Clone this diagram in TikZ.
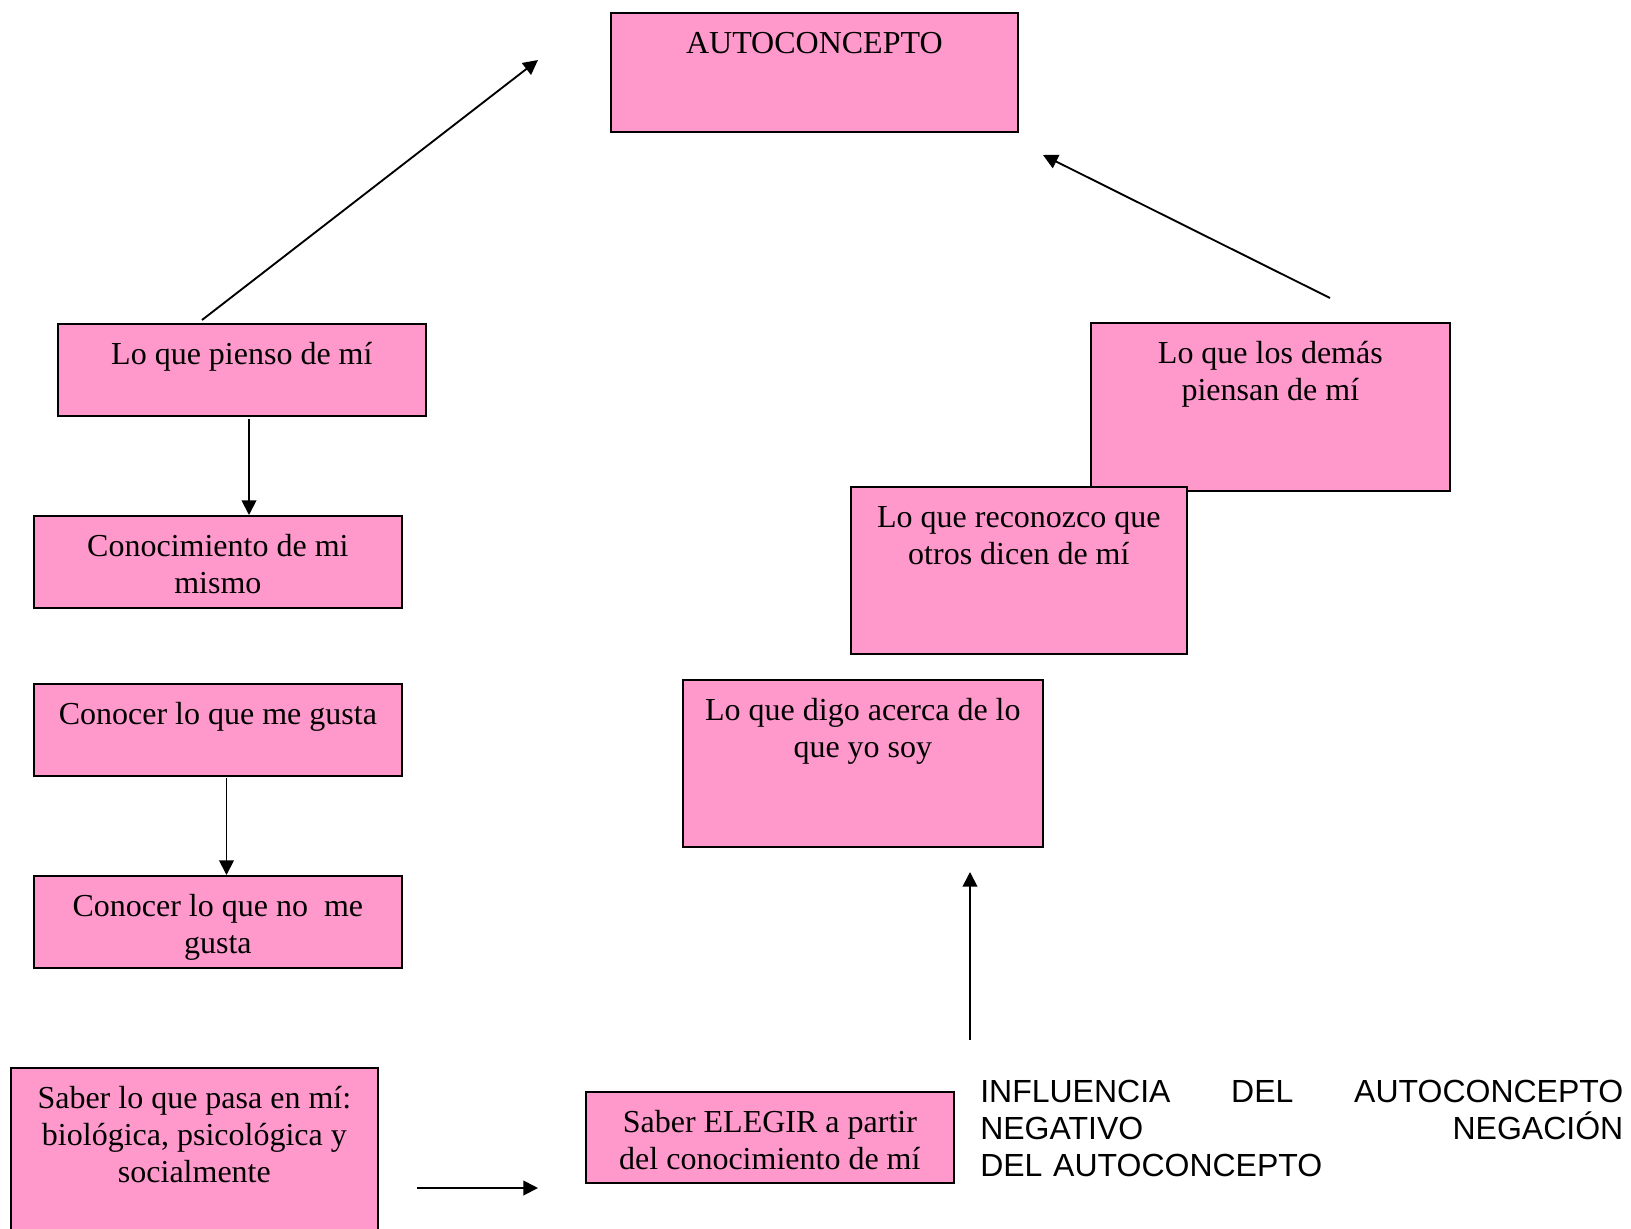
\documentclass[tikz,border=0pt]{standalone}
\usepackage{fontspec}
\setmainfont{Liberation Serif}
\newfontfamily\arialf{Liberation Sans}
\usetikzlibrary{arrows.meta}
\definecolor{boxpink}{HTML}{FF99CC}
\newdimen\PX \PX=0.75pt
\newcommand{\bx}[3]{\parbox[t][#2\PX][t]{#1\PX}{\centering\rule{0pt}{40.5\PX}#3}}
\tikzset{
  pbox/.style={draw, line width=1.3pt, fill=boxpink, inner sep=0pt, anchor=north west},
  arr/.style={line width=1.4pt, -{Triangle[length=11pt,width=11pt]}}
}
\begin{document}
\begin{tikzpicture}[x=0.75pt, y=-0.75pt, font=\fontsize{24}{27.7}\selectfont]
\useasboundingbox (0,0) rectangle (1631,1228);
\clip (0,0) rectangle (1631,1228);
% boxes
\node[pbox] (A) at (610,12) {\bx{407}{119}{AUTOCONCEPTO}};
\node[pbox] (B) at (57,323) {\bx{368}{92}{Lo que pienso de mí}};
\node[pbox] (C) at (33,515) {\bx{368}{92}{Conocimiento de mi\\mismo}};
\node[pbox] (D) at (33,683) {\bx{368}{92}{Conocer lo que me gusta}};
\node[pbox] (E) at (33,875) {\bx{368}{92}{Conocer lo que no\ \ me\\gusta}};
\node[pbox] (F) at (10,1067) {\bx{367}{190}{Saber lo que pasa en mí:\\biológica, psicológica y\\socialmente}};
\node[pbox] (G) at (585,1091) {\bx{368}{91}{Saber ELEGIR a partir\\del conocimiento de mí}};
\node[pbox] (H) at (1090,322) {\bx{359}{168}{Lo que los demás\\piensan de mí}};
\node[pbox] (I) at (850,486) {\bx{336}{167}{Lo que reconozco que\\otros dicen de mí}};
\node[pbox] (J) at (682,679) {\bx{360}{167}{Lo que digo acerca de lo\\que yo soy}};
% free text
\node[anchor=base west, text width=643\PX, inner sep=0pt, align=left,
      font=\arialf\fontsize{24}{27.9}\selectfont] (T) at (980,1102)
  {INFLUENCIA\hfill DEL\hfill AUTOCONCEPTO\\NEGATIVO\hfill NEGACIÓN\\DEL AUTOCONCEPTO};
% connector end points
\coordinate (p1) at (202,320);
\coordinate (q1) at (538,60);
\coordinate (p2) at (1330,298);
\coordinate (q2) at (1043,155);
\coordinate (p3) at (249,419);
\coordinate (p4) at (226.5,778);
\coordinate (p5) at (970,1040);
\coordinate (q5) at (970,872);
\coordinate (p6) at (417,1188);
\coordinate (q6) at (538,1188);
% connectors
\draw[arr] (p1) -- (q1);
\draw[arr] (p2) -- (q2);
\draw[arr] (p3) -- (p3 |- C.north);
\draw[arr] (p4) -- (p4 |- E.north);
\draw[arr] (p5) -- (q5);
\draw[arr] (p6) -- (q6);
\end{tikzpicture}
\end{document}
